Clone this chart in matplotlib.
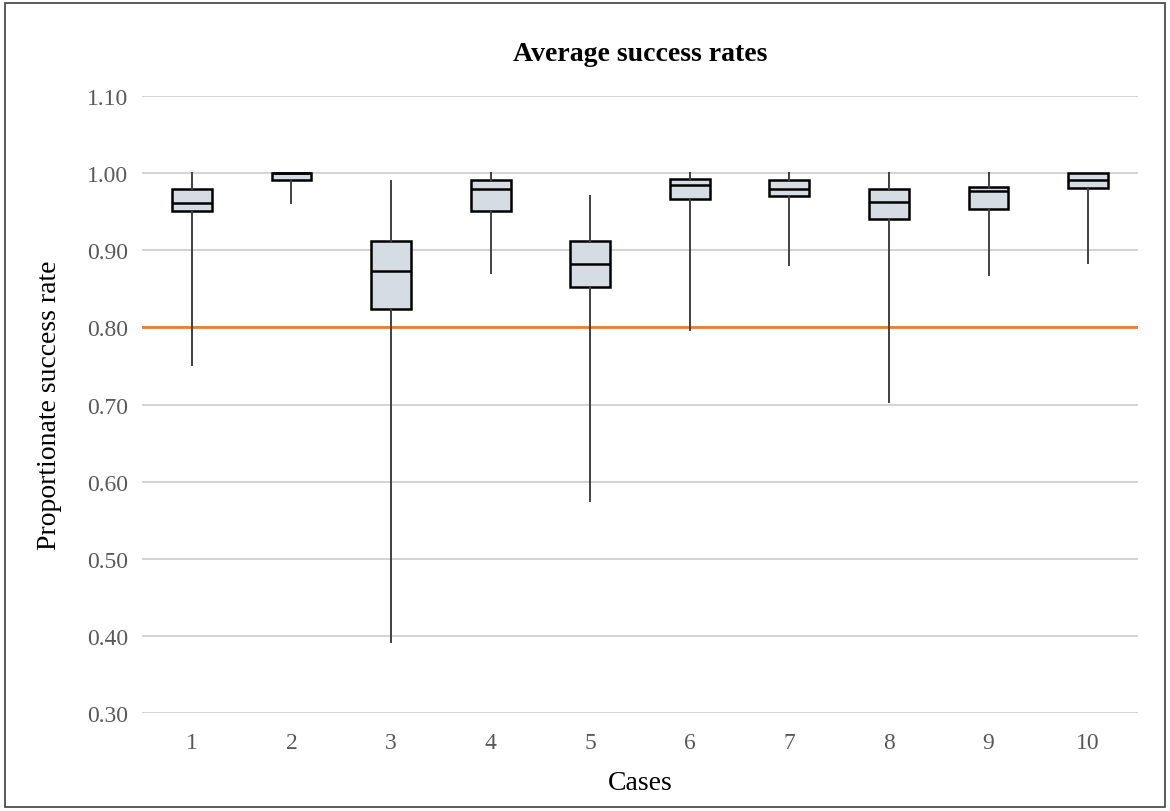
import matplotlib
matplotlib.use('Agg')
import matplotlib.pyplot as plt
from matplotlib.patches import Rectangle

# values
cases = ['1', '2', '3', '4', '5', '6', '7', '8', '9', '10']
whisker_low = [0.751, 0.961, 0.392, 0.871, 0.575, 0.796, 0.881, 0.703, 0.868, 0.883]
q1 = [0.951, 0.991, 0.824, 0.951, 0.852, 0.967, 0.971, 0.941, 0.953, 0.981]
median = [0.961, 1.000, 0.873, 0.980, 0.882, 0.984, 0.980, 0.962, 0.977, 0.991]
q3 = [0.980, 1.000, 0.912, 0.991, 0.912, 0.992, 0.991, 0.980, 0.982, 1.000]
whisker_high = [1.000, 1.000, 0.990, 1.000, 0.970, 1.000, 1.000, 1.000, 1.000, 1.000]
target = 0.80
yticks = [0.30, 0.40, 0.50, 0.60, 0.70, 0.80, 0.90, 1.00, 1.10]

plt.rcParams['font.family'] = ['Liberation Serif', 'DejaVu Serif']

fig = plt.figure(figsize=(11.7, 8.12), dpi=100)
ax = fig.add_axes([0.1214, 0.1207, 0.8512, 0.7598])

stats = []
for i in range(len(cases)):
    stats.append({'label': cases[i], 'whislo': whisker_low[i], 'q1': q1[i],
                  'med': median[i], 'q3': q3[i], 'whishi': whisker_high[i],
                  'fliers': []})

ax.bxp(stats, positions=range(1, len(cases) + 1), widths=0.4,
       showcaps=False, showfliers=False, patch_artist=True,
       boxprops=dict(facecolor='#d6dce4', edgecolor='black', linewidth=1.8),
       medianprops=dict(color='black', linewidth=1.8),
       whiskerprops=dict(color='#404040', linewidth=1.4),
       zorder=3)

ax.axhline(target, color='#ed7d31', linewidth=2, zorder=2)

ax.set_xlim(0.5, len(cases) + 0.5)
ax.set_ylim(0.30, 1.10)
ax.set_yticks(yticks)
ax.set_yticklabels([f'{v:.2f}' for v in yticks])
ax.grid(axis='y', color='#d0d0d0', linewidth=1.3, zorder=0)
ax.set_axisbelow(True)
for s in ax.spines.values():
    s.set_visible(False)
ax.tick_params(length=0, labelsize=17, colors='#595959', pad=10)
ax.tick_params(axis='x', pad=14)

ax.set_title('Average success rates', fontsize=20, fontweight='bold', pad=26)
ax.set_xlabel('Cases', fontsize=20, labelpad=12)
ax.set_ylabel('Proportionate success rate', fontsize=20, labelpad=18)

fig.add_artist(Rectangle((0.004, 0.005), 0.992, 0.99, transform=fig.transFigure,
                         fill=False, edgecolor='#404040', linewidth=1.2))

fig.savefig('out.png', dpi=100)
